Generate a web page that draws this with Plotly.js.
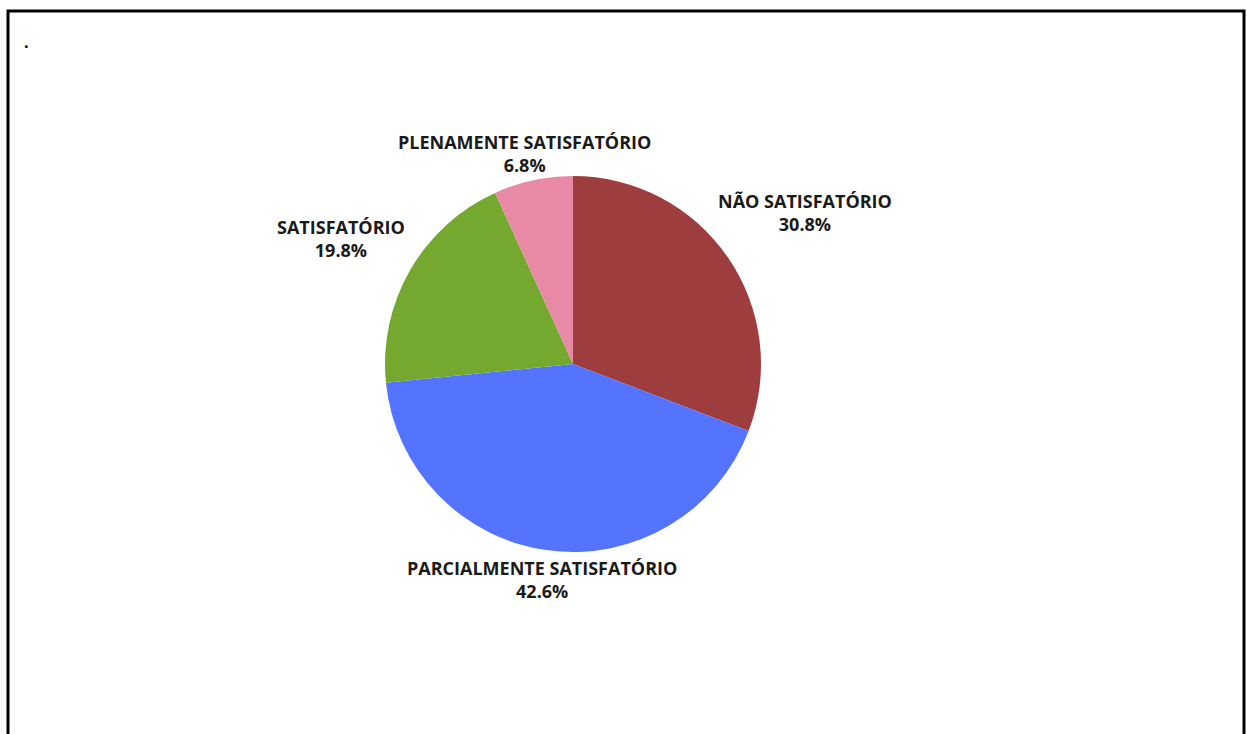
<!DOCTYPE html>
<html>
<head>
<meta charset="utf-8">
<script src="https://cdn.plot.ly/plotly-3.0.1.min.js"></script>
<style>
  html, body { margin: 0; padding: 0; background: #fff; }
  #chart { width: 1247px; height: 734px; }
</style>
</head>
<body>
<div id="chart"></div>
<script>
// Data
var categories = ['NÃO SATISFATÓRIO', 'PARCIALMENTE SATISFATÓRIO', 'SATISFATÓRIO', 'PLENAMENTE SATISFATÓRIO'];
var percentages = [30.8, 42.6, 19.8, 6.8];
var sliceColors = ['#9E3D3D', '#5474FF', '#74A82F', '#E88AA5'];

var W = 1247, H = 734;
var cx = 573, cy = 364, r = 188;

// label centres (pixel positions, layout only)
var labelPos = [
  [805, 212],
  [542, 579],
  [341, 238],
  [524, 153]
];

var annotations = categories.map(function (c, i) {
  return {
    xref: 'paper', yref: 'paper',
    x: labelPos[i][0] / W, y: 1 - labelPos[i][1] / H,
    xanchor: 'center', yanchor: 'middle',
    text: '<b>' + c + '<br>' + percentages[i].toFixed(1) + '%</b>',
    showarrow: false,
    align: 'center',
    font: { family: 'Open Sans, sans-serif', size: 18, color: '#1a1a1a' }
  };
});

annotations.push({
  xref: 'paper', yref: 'paper',
  x: 22 / W, y: 1 - 42 / H,
  xanchor: 'left', yanchor: 'middle',
  text: '<b>.</b>', showarrow: false,
  font: { family: 'Open Sans, sans-serif', size: 16, color: '#000' }
});

var trace = {
  type: 'pie',
  labels: categories,
  values: percentages,
  sort: false,
  direction: 'clockwise',
  rotation: 0,
  textinfo: 'none',
  hoverinfo: 'label+percent',
  marker: { colors: sliceColors, line: { width: 0 } },
  domain: {
    x: [(cx - r) / W, (cx + r) / W],
    y: [1 - (cy + r) / H, 1 - (cy - r) / H]
  },
  showlegend: false
};

var layout = {
  width: W, height: H,
  margin: { l: 0, r: 0, t: 0, b: 0 },
  paper_bgcolor: '#fff',
  showlegend: false,
  annotations: annotations,
  shapes: [{
    type: 'rect', xref: 'paper', yref: 'paper',
    x0: 8 / W, x1: 1244 / W,
    y0: -0.05, y1: 1 - 11 / H,
    line: { color: '#000', width: 3 },
    fillcolor: 'rgba(0,0,0,0)'
  }]
};

Plotly.newPlot('chart', [trace], layout, { displayModeBar: false, staticPlot: true });
</script>
</body>
</html>
